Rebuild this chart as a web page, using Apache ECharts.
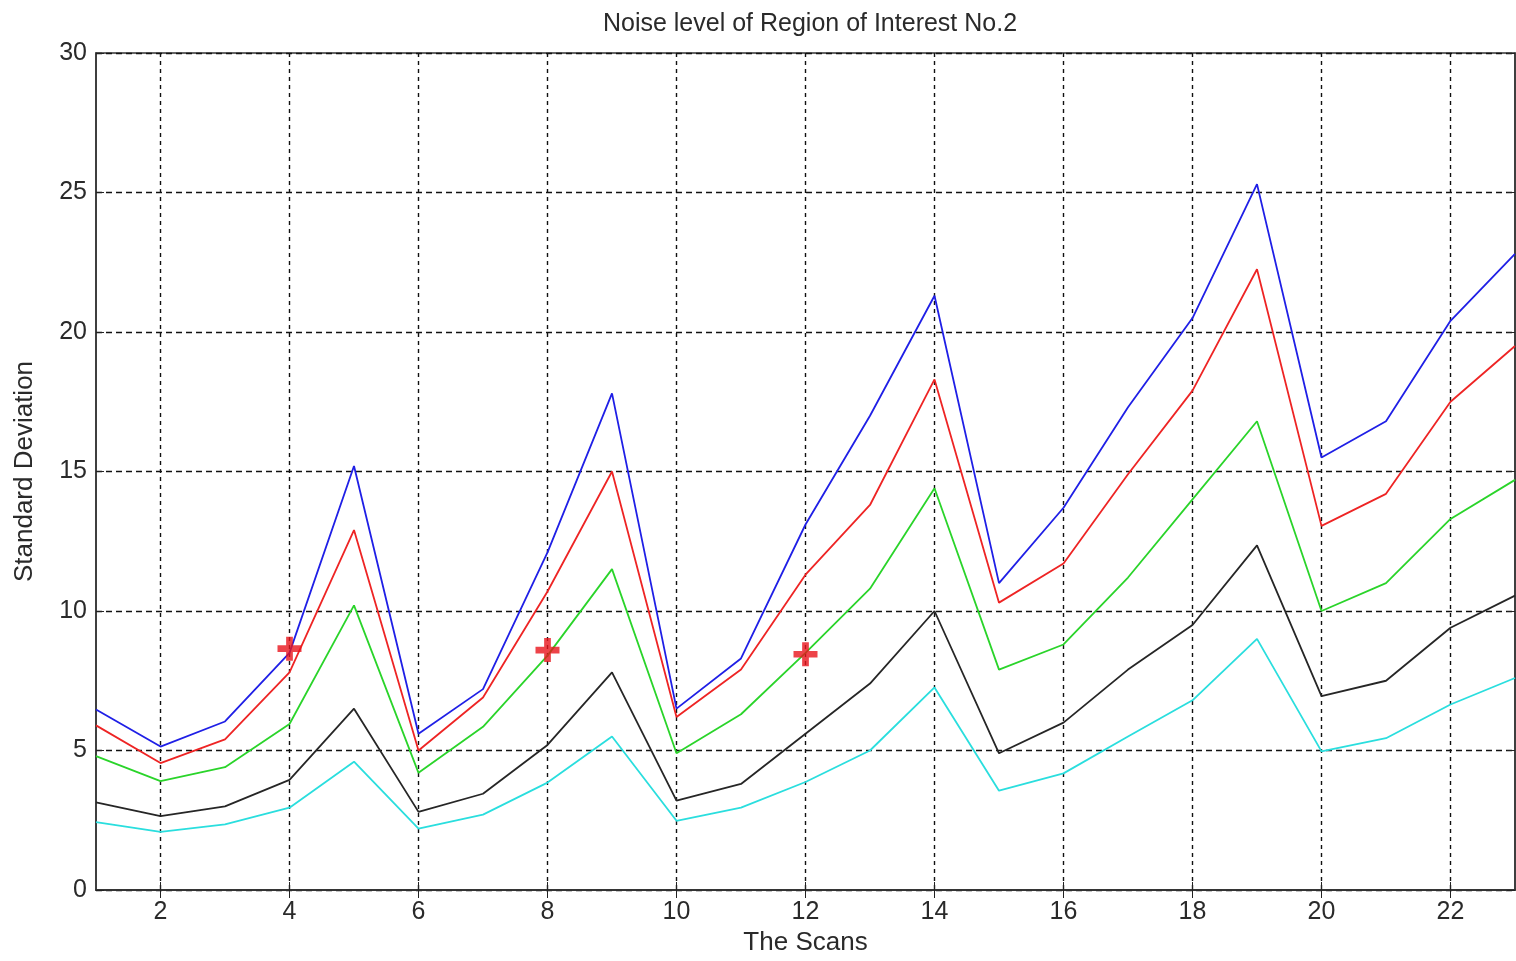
<!DOCTYPE html>
<html>
<head>
<meta charset="utf-8">
<title>Noise level of Region of Interest No.2</title>
<script src="https://cdn.jsdelivr.net/npm/echarts@6/dist/echarts.min.js"></script>
<style>
  html, body { margin: 0; padding: 0; background: #fff; }
  #chart { width: 1516px; height: 961px; }
</style>
</head>
<body>
<div id="chart"></div>
<script>
// scans on the x axis
const scans = ['1', '2', '3', '4', '5', '6', '7', '8', '9', '10', '11', '12',
  '13', '14', '15', '16', '17', '18', '19', '20', '21', '22', '23']

// standard deviation per scan, one array per curve
const blueValues = [6.47, 5.14, 6.04, 8.5, 15.2, 5.6, 7.2, 12.1, 17.8, 6.5, 8.3, 13.1,
  17.0, 21.3, 11.0, 13.7, 17.3, 20.5, 25.3, 15.5, 16.8, 20.4, 22.8]
const redValues = [5.9, 4.55, 5.4, 7.8, 12.9, 5.0, 6.9, 10.7, 15.0, 6.2, 7.9, 11.3,
  13.8, 18.3, 10.3, 11.7, 14.9, 17.9, 22.25, 13.05, 14.2, 17.5, 19.5]
const greenValues = [4.8, 3.9, 4.4, 5.95, 10.2, 4.2, 5.85, 8.4, 11.5, 4.9, 6.3, 8.5,
  10.8, 14.4, 7.9, 8.8, 11.2, 14.0, 16.8, 10.0, 11.0, 13.3, 14.7]
const blackValues = [3.14, 2.65, 3.0, 3.95, 6.5, 2.8, 3.45, 5.2, 7.8, 3.2, 3.8, 5.6,
  7.4, 10.0, 4.9, 6.0, 7.9, 9.5, 12.35, 6.95, 7.5, 9.4, 10.55]
const cyanValues = [2.43, 2.08, 2.35, 2.95, 4.6, 2.2, 2.7, 3.85, 5.5, 2.48, 2.95, 3.87,
  5.0, 7.26, 3.56, 4.18, 5.5, 6.8, 9.0, 4.97, 5.44, 6.65, 7.6]

// red plus markers
const markerScans = ['4', '8', '12']
const markerValues = [8.65, 8.6, 8.45]

const chart = echarts.init(document.getElementById('chart'))

const evenOnly = (idx, val) => Number(val) % 2 === 0
const font = 'Liberation Sans, Arial, sans-serif'

const lineSeries = (name, data, color) => ({
  name: name,
  type: 'line',
  data: data,
  symbol: 'none',
  lineStyle: { color: color, width: 1.8 },
  itemStyle: { color: color },
  z: 3
})

const option = {
  animation: false,
  title: {
    text: 'Noise level of Region of Interest No.2',
    left: 805,
    textAlign: 'center',
    top: 7,
    textStyle: { fontFamily: font, fontSize: 25, fontWeight: 'normal', color: '#2a2a2a' }
  },
  grid: {
    left: 96,
    right: 1,
    top: 53,
    bottom: 68,
    show: true,
    borderColor: '#333',
    borderWidth: 1.5,
    backgroundColor: '#fff'
  },
  xAxis: [
    {
      type: 'category',
      data: scans,
      boundaryGap: false,
      name: 'The Scans',
      nameLocation: 'middle',
      nameGap: 40,
      nameTextStyle: { fontFamily: font, fontSize: 26, color: '#2a2a2a' },
      axisLine: { lineStyle: { color: '#333', width: 1.5 } },
      axisTick: { inside: true, length: 8, interval: evenOnly, lineStyle: { color: '#222' } },
      axisLabel: { interval: evenOnly, margin: 10, fontFamily: font, fontSize: 25, color: '#2a2a2a' },
      splitLine: { show: true, interval: evenOnly, lineStyle: { color: '#111', width: 1.4, type: [4, 4] } }
    },
    {
      type: 'category',
      data: scans,
      boundaryGap: false,
      position: 'top',
      axisLine: { lineStyle: { color: '#333', width: 1.5 } },
      axisTick: { inside: true, length: 8, interval: evenOnly, lineStyle: { color: '#222' } },
      axisLabel: { show: false },
      splitLine: { show: false }
    }
  ],
  yAxis: [
    {
      type: 'value',
      min: 0,
      max: 30,
      interval: 5,
      name: 'Standard Deviation',
      nameLocation: 'middle',
      nameGap: 58,
      nameTextStyle: { fontFamily: font, fontSize: 26, color: '#2a2a2a' },
      axisLine: { show: true, lineStyle: { color: '#333', width: 1.5 } },
      axisTick: { show: true, inside: true, length: 8, lineStyle: { color: '#222' } },
      axisLabel: { margin: 9, fontFamily: font, fontSize: 25, color: '#2a2a2a' },
      splitLine: { show: true, lineStyle: { color: '#111', width: 1.4, type: [6, 4] } }
    },
    {
      type: 'value',
      min: 0,
      max: 30,
      interval: 5,
      position: 'right',
      axisLine: { show: true, lineStyle: { color: '#333', width: 1.5 } },
      axisTick: { show: true, inside: true, length: 8, lineStyle: { color: '#222' } },
      axisLabel: { show: false },
      splitLine: { show: false }
    }
  ],
  series: [
    lineSeries('blue', blueValues, '#1f1fe6'),
    lineSeries('red', redValues, '#ee2424'),
    lineSeries('green', greenValues, '#2ad42a'),
    lineSeries('black', blackValues, '#262626'),
    lineSeries('cyan', cyanValues, '#2adede'),
    {
      name: 'markers',
      type: 'scatter',
      data: markerScans.map((s, i) => [s, markerValues[i]]),
      symbol: 'path://M1.8,0H3.2V1.8H5V3.2H3.2V5H1.8V3.2H0V1.8H1.8Z',
      symbolSize: 24,
      itemStyle: { color: '#e8141c' },
      z: 5
    }
  ]
}

chart.setOption(option)
</script>
</body>
</html>
